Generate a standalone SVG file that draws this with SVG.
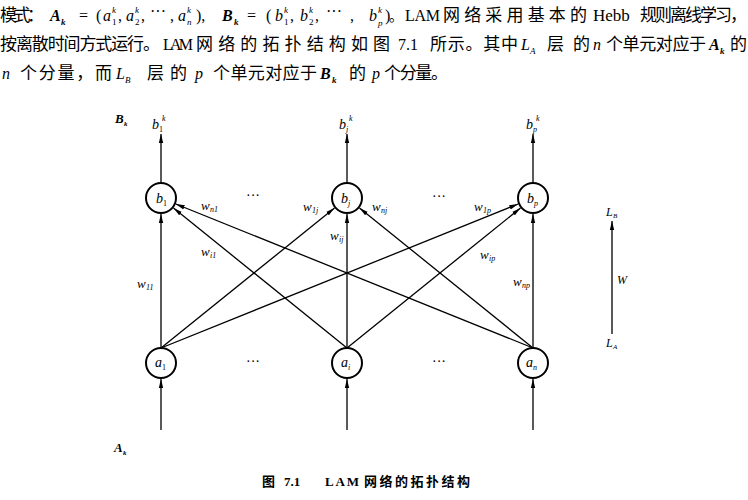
<svg xmlns="http://www.w3.org/2000/svg" width="748" height="500" viewBox="0 0 748 500">
<style>
.t{font-family:"Liberation Serif","Noto Sans CJK SC",serif;font-size:16px;fill:#000}
.c{font-family:"Liberation Serif","Noto Sans CJK SC",serif;font-size:17px;fill:#000}
.i{font-family:"Liberation Serif",serif;font-style:italic;font-size:16px;fill:#000}
.bi{font-family:"Liberation Serif",serif;font-style:italic;font-weight:bold;font-size:16px;fill:#000}
.s{font-size:9px}
.nl{font-family:"Liberation Serif",serif;font-style:italic;font-size:14px;fill:#000}
.ns{font-family:"Liberation Serif",serif;font-size:8px;fill:#000}
.nsi{font-family:"Liberation Serif",serif;font-style:italic;font-size:8px;fill:#000}
.w{font-family:"Liberation Serif",serif;font-style:italic;font-size:13px;fill:#000}
.ws{font-family:"Liberation Serif",serif;font-style:italic;font-size:8px;fill:#000}
.lb{font-family:"Liberation Serif",serif;font-style:italic;font-size:12px;fill:#000}
.lbs{font-family:"Liberation Serif",serif;font-style:italic;font-size:7px;fill:#000}
.bl{font-family:"Liberation Serif",serif;font-style:italic;font-weight:bold;font-size:13px;fill:#000}
.bls{font-family:"Liberation Serif",serif;font-style:italic;font-weight:bold;font-size:7px;fill:#000}
.dots{font-family:"Liberation Serif",serif;font-size:14px;fill:#000}
.node circle{fill:#fff;stroke:#000;stroke-width:2}
.conn line{stroke:#000;stroke-width:1.3;marker-end:url(#ah)}
.cap{font-family:"Liberation Serif","Noto Sans CJK SC",serif;font-weight:bold;font-size:13px;fill:#000}
</style>
<defs>
<marker id="ah" markerUnits="userSpaceOnUse" markerWidth="10" markerHeight="6" refX="9" refY="3" orient="auto">
<path d="M0,0.8 L9,3 L0,5.2 z" fill="#000"/>
</marker>
</defs>
<rect width="748" height="500" fill="#fff"/>

<g id="paragraph">
<text class="c" x="0" y="21" textLength="44">模式：</text>
<text class="bi" x="50" y="21">A</text><text class="bi s" x="61" y="25">k</text>
<text class="t" x="79" y="21">=</text>
<text class="t" x="96" y="21">(</text>
<text class="i" x="103" y="21">a</text><text class="i s" x="112" y="13">k</text><text class="t s" x="112" y="25">1</text>
<text class="t" x="118" y="21">,</text>
<text class="i" x="126" y="21">a</text><text class="i s" x="135" y="13">k</text><text class="t s" x="135" y="25">2</text>
<text class="t" x="141" y="21">,</text>
<text class="t" x="150" y="17">···</text>
<text class="t" x="170" y="21">,</text>
<text class="i" x="178" y="21">a</text><text class="i s" x="187" y="13">k</text><text class="i s" x="187" y="25">n</text>
<text class="t" x="196" y="21">),</text>
<text class="bi" x="222" y="21">B</text><text class="bi s" x="234" y="25">k</text>
<text class="t" x="247" y="21">=</text>
<text class="t" x="266" y="21">(</text>
<text class="i" x="275" y="21">b</text><text class="i s" x="284" y="13">k</text><text class="t s" x="284" y="25">1</text>
<text class="t" x="290" y="21">,</text>
<text class="i" x="300" y="21">b</text><text class="i s" x="309" y="13">k</text><text class="t s" x="309" y="25">2</text>
<text class="t" x="315" y="21">,</text>
<text class="t" x="326" y="17">···</text>
<text class="t" x="350" y="21">,</text>
<text class="i" x="369" y="21">b</text><text class="i s" x="378" y="13">k</text><text class="i s" x="378" y="26">p</text>
<text class="t" x="385" y="21">)</text>
<text class="c" x="389" y="21" style="font-size:14px">。</text>
<text class="t" x="405" y="21" textLength="35">LAM</text>
<text class="c" x="443" y="21" textLength="144">网络采用基本的</text>
<text class="c" x="593" y="21">Hebb</text>
<text class="c" x="640" y="21" textLength="107">规则离线学习，</text>

<text class="c" x="0" y="50" textLength="160">按离散时间方式运行。</text>
<text class="t" x="163" y="50" textLength="30">LAM</text>
<text class="c" x="196" y="50" textLength="194">网络的拓扑结构如图</text>
<text class="t" x="398" y="50">7.1</text>
<text class="c" x="430" y="50" textLength="88">所示。其中</text>
<text class="i" x="521" y="50">L</text><text class="i s" x="530" y="54">A</text>
<text class="c" x="547" y="50" textLength="43">层的</text>
<text class="i" x="593" y="50">n</text>
<text class="c" x="606" y="50" textLength="100">个单元对应于</text>
<text class="bi" x="709" y="50">A</text><text class="bi s" x="720" y="54">k</text>
<text class="c" x="730" y="50" textLength="17">的</text>

<text class="i" x="2" y="79">n</text>
<text class="c" x="20" y="79" textLength="92">个分量，而</text>
<text class="i" x="116" y="79">L</text><text class="i s" x="125" y="83">B</text>
<text class="c" x="147" y="79" textLength="40">层的</text>
<text class="i" x="195" y="79">p</text>
<text class="c" x="213" y="79" textLength="104">个单元对应于</text>
<text class="bi" x="320" y="79">B</text><text class="bi s" x="332" y="83">k</text>
<text class="c" x="349" y="79" textLength="17">的</text>
<text class="i" x="372" y="79">p</text>
<text class="c" x="384" y="79" textLength="64">个分量。</text>
</g>

<g id="connectors" class="conn">
<line x1="161" y1="183" x2="161" y2="134"/>
<line x1="347" y1="183" x2="347" y2="134"/>
<line x1="533" y1="183" x2="533" y2="134"/>
<line x1="161" y1="430" x2="161" y2="379"/>
<line x1="347" y1="430" x2="347" y2="379"/>
<line x1="533" y1="430" x2="533" y2="379"/>
<line x1="161" y1="348" x2="161" y2="214"/>
<line x1="347" y1="348" x2="347" y2="214"/>
<line x1="533" y1="348" x2="533" y2="214"/>
<line x1="161" y1="348" x2="334.5" y2="208"/>
<line x1="161" y1="348" x2="518.2" y2="204"/>
<line x1="347" y1="348" x2="173.5" y2="208"/>
<line x1="347" y1="348" x2="520.5" y2="208"/>
<line x1="533" y1="348" x2="175.8" y2="204"/>
<line x1="533" y1="348" x2="359.5" y2="208"/>
<line x1="612" y1="334" x2="612" y2="221"/>
</g>

<g id="node-b1" class="node"><circle cx="161" cy="198" r="15"/><text class="nl" x="156" y="203">b</text><text class="ns" x="163" y="206">1</text></g>
<g id="node-bj" class="node"><circle cx="347" cy="198" r="15"/><text class="nl" x="341" y="203">b</text><text class="nsi" x="348" y="206">j</text></g>
<g id="node-bp" class="node"><circle cx="533" cy="198" r="15"/><text class="nl" x="527" y="203">b</text><text class="nsi" x="534" y="206">p</text></g>
<g id="node-a1" class="node"><circle cx="161" cy="363" r="15"/><text class="nl" x="155" y="367">a</text><text class="ns" x="162" y="370">1</text></g>
<g id="node-ai" class="node"><circle cx="347" cy="363" r="15"/><text class="nl" x="341" y="367">a</text><text class="nsi" x="348" y="370">i</text></g>
<g id="node-an" class="node"><circle cx="533" cy="363" r="15"/><text class="nl" x="526" y="367">a</text><text class="nsi" x="533" y="370">n</text></g>

<g id="labels">
<text class="bl" x="115" y="123">B</text><text class="bls" x="124" y="126">k</text>
<text class="nl" x="152" y="129">b</text><text class="ns" x="159" y="132">1</text><text class="nsi" x="162" y="121">k</text>
<text class="nl" x="339" y="129">b</text><text class="nsi" x="346" y="132">j</text><text class="nsi" x="349" y="121">k</text>
<text class="nl" x="526" y="129">b</text><text class="nsi" x="533" y="132">p</text><text class="nsi" x="536" y="121">k</text>

<text class="dots" x="246" y="200">···</text>
<text class="dots" x="432" y="201">···</text>
<text class="dots" x="246" y="366">···</text>
<text class="dots" x="432" y="366">···</text>

<text class="w" x="137" y="288">w</text><text class="ws" x="146" y="290">11</text>
<text class="w" x="201" y="210">w</text><text class="ws" x="210" y="212">n1</text>
<text class="w" x="201" y="256">w</text><text class="ws" x="210" y="258">i1</text>
<text class="w" x="303" y="211">w</text><text class="ws" x="312" y="213">1j</text>
<text class="w" x="330" y="240">w</text><text class="ws" x="339" y="242">ij</text>
<text class="w" x="372" y="211">w</text><text class="ws" x="381" y="213">nj</text>
<text class="w" x="474" y="211">w</text><text class="ws" x="483" y="213">1p</text>
<text class="w" x="480" y="259">w</text><text class="ws" x="489" y="261">ip</text>
<text class="w" x="513" y="286">w</text><text class="ws" x="522" y="288">np</text>

<text class="lb" x="606" y="216">L</text><text class="lbs" x="613" y="218">B</text>
<text class="lb" x="617" y="284">W</text>
<text class="lb" x="606" y="347">L</text><text class="lbs" x="613" y="349">A</text>

<text class="bl" x="114" y="452">A</text><text class="bls" x="123" y="455">k</text>
</g>

<g id="caption">
<text class="cap" x="262" y="486">图</text>
<text class="cap" x="284" y="486">7.1</text>
<text class="cap" x="325" y="486" textLength="34">LAM</text>
<text class="cap" x="364" y="486" textLength="106">网络的拓扑结构</text>
</g>
</svg>
